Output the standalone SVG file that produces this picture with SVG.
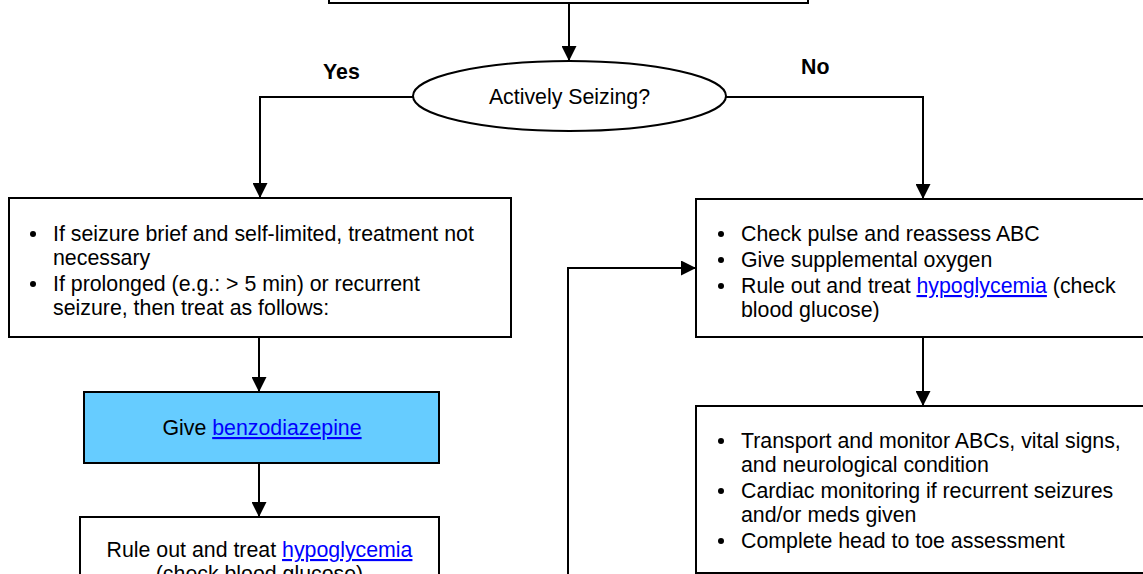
<svg xmlns="http://www.w3.org/2000/svg" width="1143" height="574" viewBox="0 0 1143 574">
<style>
  .box{fill:#fff;stroke:#000;stroke-width:2}
  .blue{fill:#66CCFF;stroke:#000;stroke-width:2}
  .t{font-family:"Liberation Sans",Arial,sans-serif;font-size:21.33px;fill:#000}
  .b{font-weight:bold}
  .c{text-anchor:middle}
  .lnk{fill:#0000FF;text-decoration:underline}
  .con{fill:none;stroke:#000;stroke-width:2}
  .dot{fill:#000}
</style>
<defs>
  <marker id="ah" viewBox="0 0 15 15" markerWidth="15" markerHeight="15" refX="15" refY="7.5" orient="auto" markerUnits="userSpaceOnUse">
    <path d="M0,0 L15,7.5 L0,15 z" fill="#000"/>
  </marker>
</defs>
<rect width="1143" height="574" fill="#fff"/>

<g id="connectors">
  <path class="con" d="M569,3 V61" marker-end="url(#ah)"/>
  <path class="con" d="M413,97 H260 V198" marker-end="url(#ah)"/>
  <path class="con" d="M726,97 H923 V199" marker-end="url(#ah)"/>
  <path class="con" d="M259,337 V392" marker-end="url(#ah)"/>
  <path class="con" d="M259,463 V517" marker-end="url(#ah)"/>
  <path class="con" d="M923,337 V406" marker-end="url(#ah)"/>
  <path class="con" d="M568,590 V268 H696" marker-end="url(#ah)"/>
</g>

<g id="start">
  <rect class="box" x="329" y="-60" width="479" height="63"/>
</g>

<g id="decision">
  <ellipse class="box" cx="569.5" cy="96" rx="156.5" ry="35"/>
  <text class="t c" x="569.5" y="104">Actively Seizing?</text>
</g>

<g id="labels">
  <text class="t b" x="323" y="79">Yes</text>
  <text class="t b" x="801" y="74">No</text>
</g>

<g id="seizing">
  <rect class="box" x="9" y="198" width="502" height="139"/>
  <circle class="dot" cx="33" cy="234" r="3"/>
  <text class="t" x="53" y="241">If seizure brief and self-limited, treatment not</text>
  <text class="t" x="53" y="265">necessary</text>
  <circle class="dot" cx="33" cy="284" r="3"/>
  <text class="t" x="53" y="291">If prolonged (e.g.: &gt; 5 min) or recurrent</text>
  <text class="t" x="53" y="315">seizure, then treat as follows:</text>
</g>

<g id="benzo">
  <rect class="blue" x="84" y="392" width="355" height="71"/>
  <text class="t c" x="262" y="435">Give <tspan class="lnk">benzodiazepine</tspan></text>
</g>

<g id="hypo-left">
  <rect class="box" x="80" y="517" width="359" height="100"/>
  <text class="t c" x="259.5" y="557">Rule out and treat <tspan class="lnk">hypoglycemia</tspan></text>
  <text class="t c" x="259.5" y="581">(check blood glucose)</text>
</g>

<g id="not-seizing">
  <rect class="box" x="696" y="199" width="460" height="138"/>
  <circle class="dot" cx="721" cy="234" r="3"/>
  <text class="t" x="741" y="241">Check pulse and reassess ABC</text>
  <circle class="dot" cx="721" cy="260" r="3"/>
  <text class="t" x="741" y="267">Give supplemental oxygen</text>
  <circle class="dot" cx="721" cy="286" r="3"/>
  <text class="t" x="741" y="293">Rule out and treat <tspan class="lnk">hypoglycemia</tspan> (check</text>
  <text class="t" x="741" y="317">blood glucose)</text>
</g>

<g id="transport">
  <rect class="box" x="696" y="406" width="460" height="167"/>
  <circle class="dot" cx="721" cy="441" r="3"/>
  <text class="t" x="741" y="448">Transport and monitor ABCs, vital signs,</text>
  <text class="t" x="741" y="472">and neurological condition</text>
  <circle class="dot" cx="721" cy="491" r="3"/>
  <text class="t" x="741" y="498">Cardiac monitoring if recurrent seizures</text>
  <text class="t" x="741" y="522">and/or meds given</text>
  <circle class="dot" cx="721" cy="541" r="3"/>
  <text class="t" x="741" y="548">Complete head to toe assessment</text>
</g>
</svg>
